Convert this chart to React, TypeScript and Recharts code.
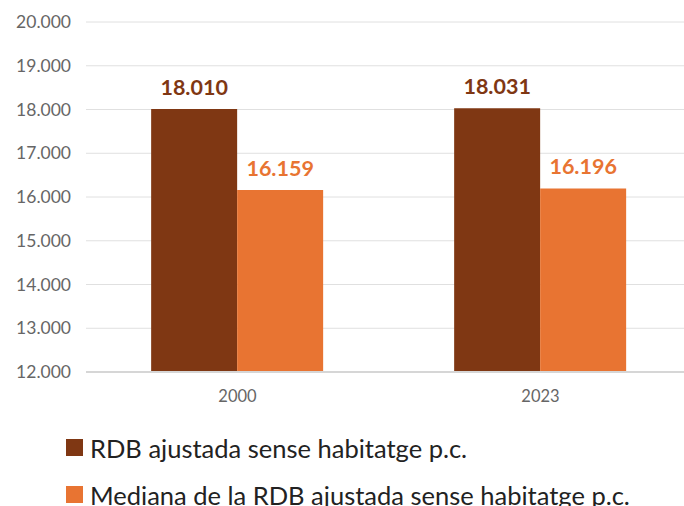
import { BarChart, Bar, XAxis, YAxis, CartesianGrid, Legend, LabelList } from 'recharts';

const years = ['2000', '2023'];
const rdbAjustada = [18010, 18031];
const medianaRdb = [16159, 16196];
const yTicks = [12000, 13000, 14000, 15000, 16000, 17000, 18000, 19000, 20000];

const seriesNames = {
  rdb: 'RDB ajustada sense habitatge p.c.',
  mediana: 'Mediana de la RDB ajustada sense habitatge p.c.',
};
const seriesOrder = ['rdb', 'mediana'];

const DARK = '#7f3713';
const ORANGE = '#e87432';

const data = years.map((year, i) => ({
  year,
  rdb: rdbAjustada[i],
  mediana: medianaRdb[i],
}));

const fmt = (v: number) => v.toLocaleString('de-DE');

function LegendBox({ payload }: any) {
  const items = [...(payload || [])].sort(
    (a: any, b: any) => seriesOrder.indexOf(a.dataKey) - seriesOrder.indexOf(b.dataKey)
  );
  return (
    <div style={{ fontFamily: 'Lato, sans-serif', fontSize: 25.5, color: '#222', whiteSpace: 'nowrap' }}>
      {items.map((p: any) => (
        <div key={p.value} style={{ display: 'flex', alignItems: 'center', height: 47 }}>
          <span style={{ width: 17, height: 17, background: p.color, marginRight: 7, display: 'inline-block' }} />
          <span>{p.value}</span>
        </div>
      ))}
    </div>
  );
}

export default function App() {
  return (
    <div style={{ position: 'absolute', left: 0, top: 0, width: 684, height: 506, overflow: 'hidden' }}>
      <BarChart
        width={692}
        height={506}
        data={data}
        margin={{ top: 22, right: 0, left: 0, bottom: 104 }}
        barCategoryGap="21.5%"
        barGap={0}
      >
        <CartesianGrid vertical={false} stroke="#e0e0e0" />
        <XAxis
          dataKey="year"
          axisLine={{ stroke: '#d6d6d6', strokeWidth: 2 }}
          tickLine={false}
          tick={{ fill: '#666', fontSize: 16.5, fontFamily: 'Lato, sans-serif' }}
          tickMargin={12}
        />
        <YAxis
          width={86}
          domain={[12000, 20000]}
          ticks={yTicks}
          tickFormatter={fmt}
          axisLine={false}
          tickLine={false}
          tickMargin={9}
          tick={{ fill: '#666', fontSize: 17.5, fontFamily: 'Lato, sans-serif' }}
        />
        <Legend
          layout="vertical"
          verticalAlign="middle"
          align="center"
          wrapperStyle={{ top: 424, left: 66 }}
          content={<LegendBox />}
        />
        <Bar dataKey="rdb" name={seriesNames.rdb} fill={DARK} isAnimationActive={false}>
          <LabelList
            dataKey="rdb"
            position="top"
            offset={14}
            formatter={(v: any) => fmt(Number(v))}
            style={{ fill: DARK, fontSize: 21.5, fontWeight: 700, fontFamily: 'Lato, sans-serif' }}
          />
        </Bar>
        <Bar dataKey="mediana" name={seriesNames.mediana} fill={ORANGE} isAnimationActive={false}>
          <LabelList
            dataKey="mediana"
            position="top"
            offset={14}
            formatter={(v: any) => fmt(Number(v))}
            style={{ fill: ORANGE, fontSize: 21.5, fontWeight: 700, fontFamily: 'Lato, sans-serif' }}
          />
        </Bar>
      </BarChart>
    </div>
  );
}
